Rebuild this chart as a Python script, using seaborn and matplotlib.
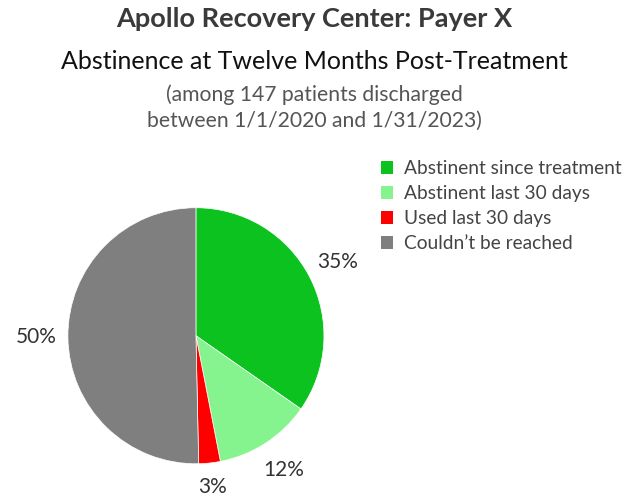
import matplotlib
matplotlib.use("Agg")
import matplotlib.pyplot as plt
import matplotlib.patches as mpatches
import seaborn as sns

categories = ["Abstinent since treatment", "Abstinent last 30 days",
              "Used last 30 days", "Couldn\u2019t be reached"]
counts = [51, 18, 4, 74]
colors = ["#0BC21F", "#86F48E", "#FF0000", "#7F7F7F"]

title = "Apollo Recovery Center: Payer X"
subtitle = "Abstinence at Twelve Months Post-Treatment"
note = "(among 147 patients discharged\nbetween 1/1/2020 and 1/31/2023)"

sns.set_theme(style="white")
plt.rcParams["font.family"] = ["Lato", "DejaVu Sans"]
palette = sns.color_palette(colors)

fig = plt.figure(figsize=(6.28, 5.03), dpi=100)
ax = fig.add_axes([0.108, 0.078, 0.408, 0.509])

wedges, texts, autotexts = ax.pie(
    counts, colors=palette, startangle=90, counterclock=False,
    autopct=lambda p: f"{p:.0f}%", pctdistance=1.25, labeldistance=None,
    wedgeprops=dict(linewidth=0.5, edgecolor="white"),
    textprops=dict(fontsize=15, color="#333333"))
ax.set_xlim(-1, 1)
ax.set_ylim(-1, 1)
ax.set_aspect("equal")
ax.axis("off")
for t in autotexts:
    t.set_clip_on(False)
# keep the small bottom label inside the figure
x3, y3 = autotexts[2].get_position()
autotexts[2].set_position((x3 * 1.19 / 1.25, y3 * 1.19 / 1.25))

fig.text(0.5, 0.962, title, ha="center", va="center", fontsize=19.5,
         fontweight="bold", color="#3a3a3a")
fig.text(0.5, 0.877, subtitle, ha="center", va="center", fontsize=18,
         color="#111111")
fig.text(0.5, 0.786, note, ha="center", va="center", fontsize=15.2,
         color="#555555", linespacing=1.35)

handles = [mpatches.Patch(facecolor=c, edgecolor="none") for c in palette]
fig.legend(handles, categories, loc="upper left",
           bbox_to_anchor=(0.594, 0.697), frameon=False, fontsize=13.8,
           handlelength=0.65, handleheight=0.65, handletextpad=0.55,
           labelspacing=0.42, labelcolor="#444444", borderaxespad=0)

fig.savefig("out.png", dpi=100, facecolor="white")
